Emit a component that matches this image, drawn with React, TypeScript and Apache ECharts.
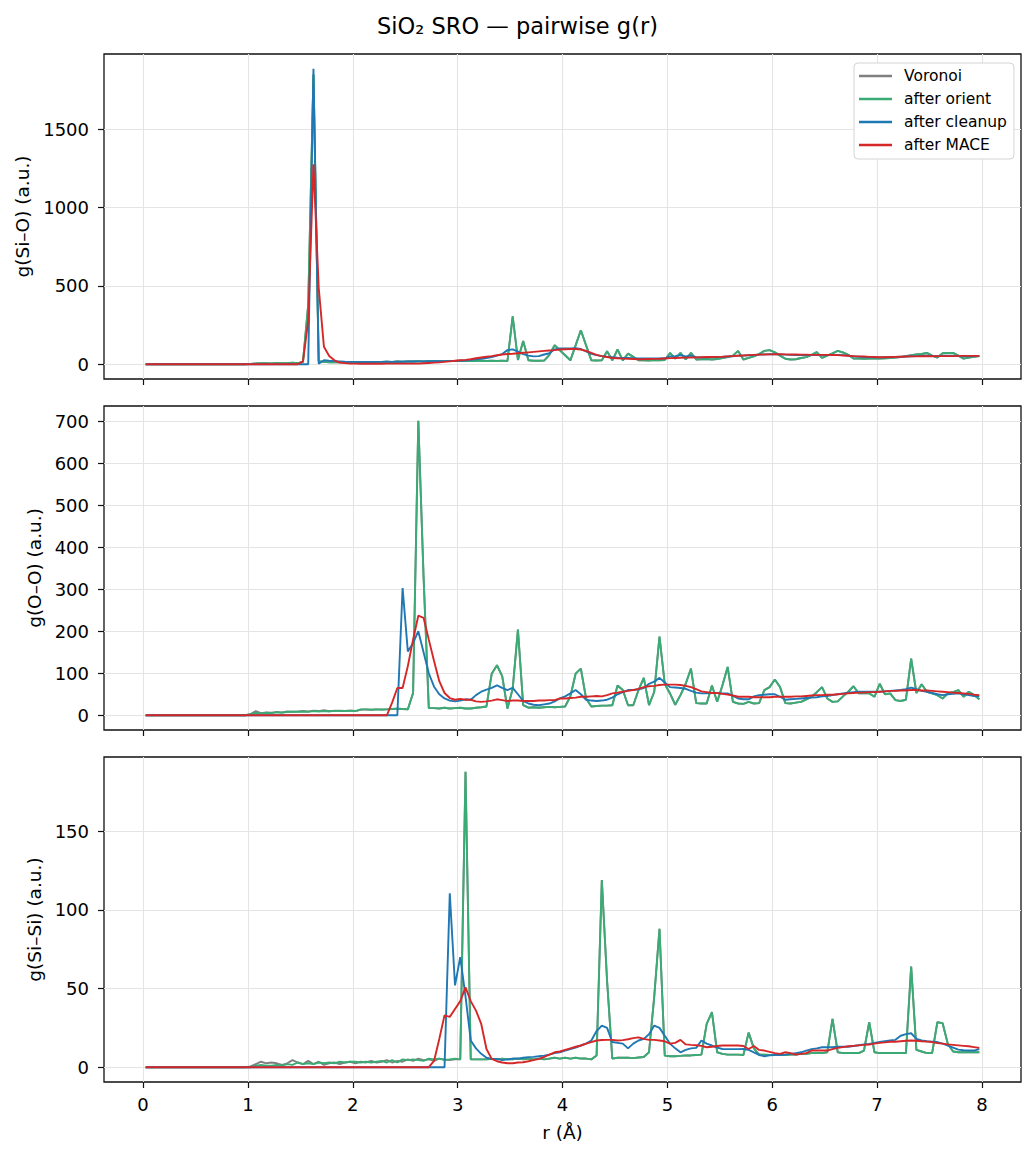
import { useEffect, useRef } from "react";
import * as echarts from "echarts";

// Bin centres of the radial histograms (Å): 160 bins of 0.05 Å between 0 and 8 Å.
const rBins: number[] = Array.from({ length: 160 }, (_, i) => +(0.025 + 0.05 * i).toFixed(3));

const xTicks = [0, 1, 2, 3, 4, 5, 6, 7, 8];
const siOTicks = [0, 500, 1000, 1500];
const ooTicks = [0, 100, 200, 300, 400, 500, 600, 700];
const siSiTicks = [0, 50, 100, 150];

const stageNames = ["Voronoi", "after orient", "after cleanup", "after MACE"];
const stageColors = ["#808080", "#3aab74", "#1f77b4", "#d62728"];

// ---- g(Si–O) ----
const siOOrient = [
  0, 0, 0, 0, 0, 0, 0, 0, 0, 0, 0, 0, 0, 0, 0, 0, 0, 0, 0, 0,
  2, 5, 6, 7, 5, 8, 6, 7, 9, 6, 15, 380, 1850, 20, 15, 12, 14, 12, 13, 12,
  14, 13, 15, 14, 13, 15, 16, 14, 17, 16, 18, 17, 19, 18, 20, 19, 20, 21, 20, 21,
  22, 21, 22, 21, 22, 21, 22, 21, 23, 21, 306, 27, 149, 25, 22, 22, 23, 60, 121, 89,
  57, 25, 120, 217, 120, 25, 24, 25, 83, 25, 94, 25, 68, 47, 25, 25, 24, 26, 25, 27,
  72, 36, 72, 30, 72, 30, 32, 33, 30, 33, 40, 45, 55, 85, 30, 40, 50, 65, 85, 90,
  76, 55, 35, 30, 32, 40, 45, 60, 77, 40, 55, 70, 85, 75, 60, 36, 36, 35, 36, 36,
  37, 38, 40, 42, 45, 52, 58, 62, 65, 72, 55, 43, 70, 72, 72, 55, 36, 42, 48, 52,
];
const siOVoronoi = siOOrient;
const siOCleanup = [
  0, 0, 0, 0, 0, 0, 0, 0, 0, 0, 0, 0, 0, 0, 0, 0, 0, 0, 0, 0,
  0, 0, 0, 0, 0, 0, 0, 0, 0, 0, 0, 0, 1886, 3, 25, 22, 20, 18, 16, 15,
  15, 14, 15, 14, 15, 15, 16, 15, 16, 16, 17, 17, 18, 18, 19, 19, 20, 20, 21, 21,
  22, 24, 28, 31, 35, 40, 45, 55, 65, 90, 95, 80, 65, 55, 50, 52, 62, 70, 95, 100,
  100, 100, 102, 97, 82, 66, 58, 52, 48, 45, 42, 40, 40, 38, 37, 37, 37, 37, 37, 38,
  50, 52, 58, 50, 55, 45, 44, 44, 45, 46, 47, 49, 51, 55, 55, 57, 59, 61, 63, 64,
  64, 63, 61, 60, 59, 58, 58, 58, 60, 58, 58, 58, 60, 58, 55, 50, 48, 46, 45, 44,
  44, 45, 46, 47, 48, 49, 51, 52, 53, 54, 53, 51, 53, 54, 54, 52, 50, 51, 52, 53,
];
const siOMace = [
  0, 0, 0, 0, 0, 0, 0, 0, 0, 0, 0, 0, 0, 0, 0, 0, 0, 0, 0, 0,
  0, 0, 0, 0, 0, 0, 0, 0, 0, 0, 18, 277, 1277, 489, 111, 53, 25, 11, 7, 5,
  4, 3, 3, 3, 3, 3, 4, 4, 4, 4, 4, 4, 4, 6, 8, 10, 12, 15, 18, 22,
  25, 28, 32, 38, 43, 48, 52, 57, 62, 65, 67, 70, 73, 76, 79, 82, 85, 88, 90, 94,
  96, 97, 97, 94, 85, 72, 60, 52, 46, 40, 38, 36, 34, 33, 32, 32, 33, 34, 35, 37,
  39, 40, 41, 42, 43, 44, 45, 46, 46, 47, 48, 50, 52, 54, 56, 58, 60, 61, 62, 63,
  64, 64, 63, 62, 62, 61, 61, 60, 60, 60, 60, 59, 58, 56, 54, 52, 50, 49, 47, 46,
  45, 45, 46, 47, 48, 49, 50, 50, 51, 51, 51, 52, 52, 52, 52, 53, 53, 53, 53, 53,
];

// ---- g(O–O) ----
const ooVoronoi = [
  0, 0, 0, 0, 0, 0, 0, 0, 0, 0, 0, 0, 0, 0, 0, 0, 0, 0, 0, 0,
  3, 10, 5, 7, 6, 8, 7, 9, 8, 9, 10, 9, 11, 10, 12, 10, 10, 11, 10, 11,
  10, 13, 14, 13, 14, 14, 14, 15, 15, 15, 14, 53, 701, 330, 17, 17, 16, 18, 16, 17,
  18, 16, 16, 18, 19, 21, 99, 119, 93, 16, 63, 204, 24, 18, 19, 18, 19, 20, 19, 20,
  21, 45, 99, 111, 40, 21, 22, 23, 23, 24, 71, 60, 24, 24, 60, 89, 24, 56, 187, 75,
  52, 25, 48, 75, 111, 29, 28, 28, 71, 32, 71, 115, 32, 28, 27, 32, 28, 29, 60, 67,
  85, 67, 29, 28, 30, 32, 38, 44, 55, 67, 40, 32, 33, 45, 56, 69, 52, 52, 52, 44,
  75, 50, 52, 36, 34, 37, 135, 53, 74, 56, 52, 48, 40, 52, 55, 60, 44, 56, 48, 38,
];
const ooOrient = [
  0, 0, 0, 0, 0, 0, 0, 0, 0, 0, 0, 0, 0, 0, 0, 0, 0, 0, 0, 0,
  2, 6, 4, 6, 5, 7, 6, 8, 9, 8, 9, 8, 10, 9, 10, 9, 11, 10, 10, 11,
  10, 14, 14, 13, 14, 13, 14, 15, 16, 15, 14, 53, 701, 330, 17, 17, 16, 18, 16, 17,
  18, 16, 16, 18, 19, 21, 99, 119, 93, 16, 63, 204, 24, 18, 19, 18, 19, 20, 19, 20,
  21, 45, 99, 111, 40, 21, 22, 23, 23, 24, 71, 60, 24, 24, 60, 89, 24, 56, 187, 75,
  52, 25, 48, 75, 111, 29, 28, 28, 71, 32, 71, 115, 32, 28, 27, 32, 28, 29, 60, 67,
  85, 67, 29, 28, 30, 32, 38, 44, 55, 67, 40, 32, 33, 45, 56, 69, 52, 52, 52, 44,
  75, 50, 52, 36, 34, 37, 135, 53, 74, 56, 52, 48, 40, 52, 55, 60, 44, 56, 48, 38,
];
const ooCleanup = [
  0, 0, 0, 0, 0, 0, 0, 0, 0, 0, 0, 0, 0, 0, 0, 0, 0, 0, 0, 0,
  0, 0, 0, 0, 0, 0, 0, 0, 0, 0, 0, 0, 0, 0, 0, 0, 0, 0, 0, 0,
  0, 0, 0, 0, 0, 0, 0, 0, 0, 303, 152, 172, 200, 150, 100, 68, 50, 40, 35, 33,
  35, 38, 37, 48, 56, 61, 65, 71, 65, 60, 65, 50, 34, 28, 25, 24, 26, 28, 33, 40,
  45, 52, 60, 50, 37, 35, 34, 35, 37, 42, 50, 55, 60, 60, 62, 65, 75, 80, 89, 78,
  67, 66, 65, 63, 58, 54, 52, 52, 53, 53, 52, 52, 46, 40, 38, 38, 45, 48, 49, 50,
  50, 44, 37, 38, 39, 40, 41, 42, 43, 45, 46, 48, 50, 52, 54, 55, 56, 56, 56, 56,
  56, 57, 58, 59, 60, 62, 66, 62, 58, 56, 53, 50, 48, 50, 51, 52, 50, 48, 46, 45,
];
const ooMace = [
  0, 0, 0, 0, 0, 0, 0, 0, 0, 0, 0, 0, 0, 0, 0, 0, 0, 0, 0, 0,
  0, 0, 0, 0, 0, 0, 0, 0, 0, 0, 0, 0, 0, 0, 0, 0, 0, 0, 0, 0,
  0, 0, 0, 0, 0, 0, 0, 30, 65, 65, 117, 180, 237, 232, 180, 129, 81, 53, 41, 37,
  39, 37, 37, 33, 32, 33, 35, 38, 36, 34, 35, 35, 34, 34, 34, 35, 35, 36, 36, 40,
  40, 41, 42, 44, 44, 45, 46, 45, 48, 52, 54, 56, 58, 60, 63, 67, 69, 70, 72, 73,
  73, 73, 72, 70, 67, 62, 57, 55, 53, 53, 51, 49, 47, 44, 44, 44, 43, 43, 43, 43,
  44, 44, 44, 44, 45, 45, 46, 47, 48, 48, 49, 49, 50, 51, 52, 53, 54, 54, 55, 55,
  56, 57, 58, 58, 59, 59, 60, 60, 59, 59, 58, 57, 56, 55, 54, 53, 52, 51, 49, 48,
];

// ---- g(Si–Si) ----
const siSiVoronoi = [
  0, 0, 0, 0, 0, 0, 0, 0, 0, 0, 0, 0, 0, 0, 0, 0, 0, 0, 0, 0,
  0.5, 2, 3.5, 2.5, 3, 2.5, 1.5, 2.5, 4.5, 3, 2, 4, 2, 3.5, 1.5, 2.5, 3, 2, 3, 3.5,
  2.5, 3.5, 3, 4, 3, 3.5, 4.5, 3, 4, 3.5, 5, 4, 5.5, 4.5, 5, 4, 5.5, 5, 4.5, 5,
  5, 187.8, 5, 5, 5, 5, 5.3, 5, 5.5, 5, 5, 5.5, 5, 5.5, 5, 5.5, 5, 5.5, 6, 5.5,
  6, 5.5, 6, 5.5, 5.5, 5, 7.4, 119, 55, 5.5, 6, 6, 6, 5.8, 6.2, 6.5, 9.5, 45, 88, 7.4,
  7, 7, 7.2, 7.5, 7.5, 7.8, 8, 27.5, 35, 9.5, 8.5, 8, 8, 8, 7.8, 22, 12, 8, 8, 7.8,
  7.8, 7.8, 7.8, 8, 8, 8.5, 8.5, 9, 9, 9, 9.5, 30.7, 9.5, 9, 9, 9, 9, 10.6, 28.6, 9.5,
  9, 9, 9, 9, 9, 9, 64, 11, 10, 9, 9, 28.6, 28, 14.8, 10, 9.5, 9.5, 9.5, 9.5, 9.5,
];
const siSiOrient = [
  0, 0, 0, 0, 0, 0, 0, 0, 0, 0, 0, 0, 0, 0, 0, 0, 0, 0, 0, 0,
  0, 1, 1.5, 1, 1, 1.5, 1, 2, 1.5, 3, 2, 2.5, 2, 3, 2.5, 3, 2.5, 3.5, 3, 3.5,
  3.5, 3, 3.5, 3, 3.5, 4, 3, 4.5, 3, 5, 4.5, 5, 4.5, 4, 5.5, 5, 5.5, 4.5, 5, 5.5,
  5, 187.8, 5, 5, 5, 5, 5.3, 5, 5.5, 5, 5, 5.5, 5, 5.5, 5, 5.5, 5, 5.5, 6, 5.5,
  6, 5.5, 6, 5.5, 5.5, 5, 7.4, 119, 55, 5.5, 6, 6, 6, 5.8, 6.2, 6.5, 9.5, 45, 88, 7.4,
  7, 7, 7.2, 7.5, 7.5, 7.8, 8, 27.5, 35, 9.5, 8.5, 8, 8, 8, 7.8, 22, 12, 8, 8, 7.8,
  7.8, 7.8, 7.8, 8, 8, 8.5, 8.5, 9, 9, 9, 9.5, 30.7, 9.5, 9, 9, 9, 9, 10.6, 28.6, 9.5,
  9, 9, 9, 9, 9, 9, 64, 11, 10, 9, 9, 28.6, 28, 14.8, 10, 9.5, 9.5, 9.5, 9.5, 9.5,
];
const siSiCleanup = [
  0, 0, 0, 0, 0, 0, 0, 0, 0, 0, 0, 0, 0, 0, 0, 0, 0, 0, 0, 0,
  0, 0, 0, 0, 0, 0, 0, 0, 0, 0, 0, 0, 0, 0, 0, 0, 0, 0, 0, 0,
  0, 0, 0, 0, 0, 0, 0, 0, 0, 0, 0, 0, 0, 0, 0, 0, 0, 0, 110.6, 52,
  70, 45, 17, 12, 8.5, 6, 5.3, 5.3, 4.5, 5, 5.5, 5.5, 6, 6.4, 6.6, 7, 7.4, 8, 9, 9.5,
  10.5, 11.5, 12.5, 13.8, 15, 17, 23, 26.5, 25, 16, 15.5, 15, 12, 15, 17, 18, 21, 26.5, 25, 20,
  15, 12, 9.5, 11, 12, 12.3, 17, 15, 13.8, 12.5, 11.6, 11.5, 11.5, 11.5, 11.6, 11, 9.5, 7.8, 7, 7.5,
  7.8, 7.8, 8, 8.5, 9, 9.5, 10.6, 11.5, 12, 12.7, 12.7, 12.7, 13, 13, 13, 13.5, 14, 14.5, 14.8, 15.5,
  16, 16.5, 17, 17.4, 20, 21, 21.6, 18, 17, 16.5, 16.3, 16, 15, 13.8, 12.5, 11.2, 10.8, 10.6, 10.6, 11.6,
];
const siSiMace = [
  0, 0, 0, 0, 0, 0, 0, 0, 0, 0, 0, 0, 0, 0, 0, 0, 0, 0, 0, 0,
  0, 0, 0, 0, 0, 0, 0, 0, 0, 0, 0, 0, 0, 0, 0, 0, 0, 0, 0, 0,
  0, 0, 0, 0, 0, 0, 0, 0, 0, 0, 0, 0, 0, 0, 0, 4, 18, 33, 32, 37,
  42, 50.8, 42, 36, 27.5, 11.6, 5.3, 3.8, 3, 2.5, 2.5, 3, 3.2, 3.8, 4.5, 5.3, 6.5, 8, 9.5, 10,
  11, 12, 13, 13.8, 15, 16, 17, 17.3, 17.4, 17.4, 17, 17.2, 17.8, 18.5, 19, 18, 17.4, 17.4, 17, 16.5,
  15, 15.5, 17.4, 14.5, 14.2, 14, 13.6, 12.7, 13, 13.5, 13.8, 13.8, 13.8, 13.8, 13.5, 11.6, 13.5, 11, 10.6, 9.8,
  9, 8.5, 9.5, 9, 8, 8.5, 9, 10.6, 10.6, 10.6, 10.6, 11.5, 12.3, 12.8, 13.3, 13.6, 13.9, 14.2, 14.4, 15,
  15.5, 15.8, 16.2, 16.2, 16.5, 16.8, 17, 16.8, 16.5, 16.3, 16, 15.3, 15, 14.5, 14.2, 13.9, 13.6, 13.3, 12.8, 12.3,
];

const FONT = "DejaVu Sans";
const INK = "#000000";
const SPINE = "#111111";
const GRID_LINE = "#e4e4e4";

type Panel = {
  label: string;
  ticks: number[];
  step: number;
  nameGap: number;
  top: number;
  height: number;
  stages: number[][];
};

const panels: Panel[] = [
  {
    label: "g(Si–O) (a.u.)",
    ticks: siOTicks,
    step: 500,
    nameGap: 68,
    top: 54,
    height: 325,
    stages: [siOVoronoi, siOOrient, siOCleanup, siOMace],
  },
  {
    label: "g(O–O) (a.u.)",
    ticks: ooTicks,
    step: 100,
    nameGap: 57,
    top: 406,
    height: 324,
    stages: [ooVoronoi, ooOrient, ooCleanup, ooMace],
  },
  {
    label: "g(Si–Si) (a.u.)",
    ticks: siSiTicks,
    step: 50,
    nameGap: 57,
    top: 757,
    height: 325,
    stages: [siSiVoronoi, siSiOrient, siSiCleanup, siSiMace],
  },
];

function buildOption(): echarts.EChartsCoreOption {
  const grid: any[] = [];
  const xAxis: any[] = [];
  const yAxis: any[] = [];
  const series: any[] = [];

  // x range: data span plus a 5 % margin on each side
  const rFirst = rBins[0];
  const rLast = rBins[rBins.length - 1];
  const rPad = 0.05 * (rLast - rFirst);

  panels.forEach((p, k) => {
    const peak = Math.max(...p.stages.flat());
    const isLast = k === panels.length - 1;

    grid.push({
      left: 104,
      top: p.top,
      width: 917,
      height: p.height,
      show: true,
      borderColor: SPINE,
      borderWidth: 1.3,
      backgroundColor: "transparent",
    });

    xAxis.push({
      type: "value",
      gridIndex: k,
      min: rFirst - rPad,
      max: rLast + rPad,
      minInterval: 1,
      maxInterval: 1,
      axisLine: { show: false, onZero: false },
      axisTick: {
        show: true,
        length: 6,
        lineStyle: { color: SPINE, width: 1.2 },
        customValues: xTicks,
      },
      axisLabel: {
        show: isLast,
        customValues: xTicks,
        formatter: (v: number) => String(v),
        fontSize: 18,
        fontFamily: FONT,
        color: INK,
        margin: 13,
      },
      splitLine: { show: true, lineStyle: { color: GRID_LINE, width: 1.1 } },
      name: isLast ? "r (Å)" : "",
      nameLocation: "middle",
      nameGap: 41,
      nameTextStyle: { fontSize: 18.5, fontFamily: FONT, color: INK },
    });

    yAxis.push({
      type: "value",
      gridIndex: k,
      min: -0.05 * peak,
      max: 1.05 * peak,
      minInterval: p.step,
      maxInterval: p.step,
      axisLine: { show: false, onZero: false },
      axisTick: {
        show: true,
        length: 6,
        lineStyle: { color: SPINE, width: 1.2 },
        customValues: p.ticks,
      },
      axisLabel: {
        customValues: p.ticks,
        formatter: (v: number) => String(v),
        fontSize: 18,
        fontFamily: FONT,
        color: INK,
        margin: 15,
      },
      splitLine: { show: true, lineStyle: { color: GRID_LINE, width: 1.1 } },
      name: p.label,
      nameLocation: "middle",
      nameRotate: 90,
      nameGap: p.nameGap,
      nameTextStyle: { fontSize: 18.5, fontFamily: FONT, color: INK },
    });

    p.stages.forEach((vals, j) => {
      series.push({
        type: "line",
        name: stageNames[j],
        xAxisIndex: k,
        yAxisIndex: k,
        data: vals.map((v, i) => [rBins[i], v]),
        symbol: "none",
        showSymbol: false,
        lineStyle: { color: stageColors[j], width: 1.9 },
        itemStyle: { color: stageColors[j] },
        emphasis: { disabled: true },
        silent: true,
        z: 2 + j,
      });
    });
  });

  return {
    animation: false,
    backgroundColor: "#ffffff",
    textStyle: { fontFamily: FONT },
    title: {
      text: "SiO₂ SRO — pairwise g(r)",
      left: "center",
      top: 9,
      textStyle: { fontSize: 22.5, fontWeight: "normal", fontFamily: FONT, color: INK },
    },
    legend: {
      data: stageNames.map((name, j) => ({ name, icon: "rect", itemStyle: { color: stageColors[j] } })),
      orient: "vertical",
      left: 854,
      top: 63,
      itemWidth: 33,
      itemHeight: 2.6,
      itemGap: 7,
      padding: [5, 7, 6, 5],
      backgroundColor: "#ffffff",
      borderColor: "#d4d4d4",
      borderWidth: 1,
      borderRadius: 4,
      textStyle: { fontSize: 15.5, fontFamily: FONT, color: INK, padding: [0, 0, 0, 7] },
      selectedMode: false,
    },
    grid,
    xAxis,
    yAxis,
    series,
  };
}

export default function App() {
  const ref = useRef<HTMLDivElement>(null);

  useEffect(() => {
    if (!ref.current) return;
    const chart = echarts.init(ref.current, undefined, { renderer: "svg" });
    chart.setOption(buildOption());
    return () => chart.dispose();
  }, []);

  return (
    <div
      ref={ref}
      style={{ position: "absolute", left: 0, top: 0, width: 1035, height: 1157, background: "#fff" }}
    />
  );
}
